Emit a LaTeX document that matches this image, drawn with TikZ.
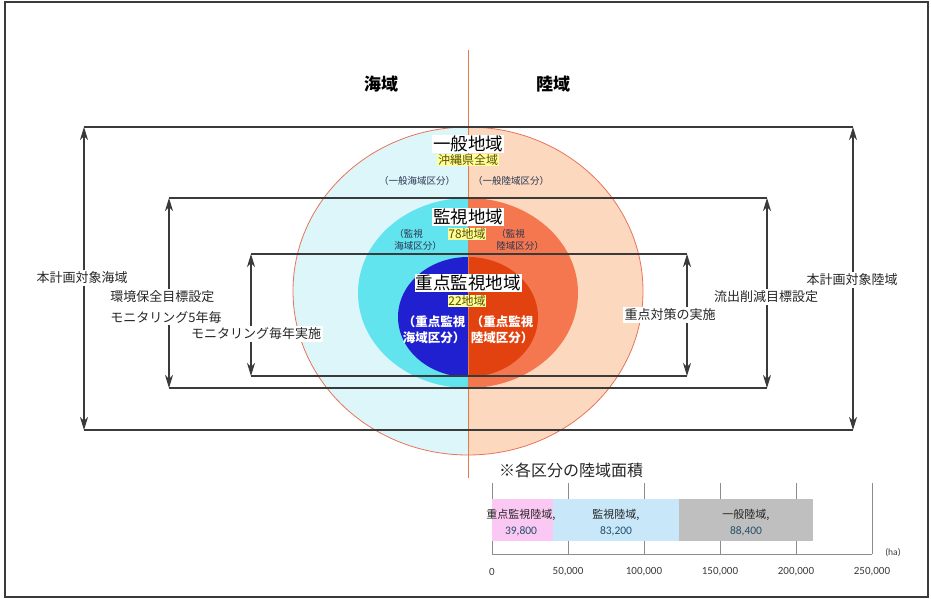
\documentclass[tikz,border=0pt]{standalone}
\usepackage{fontspec}
\setmainfont{Noto Sans CJK JP}
\newfontfamily\calfont{Carlito}
\usetikzlibrary{arrows.meta}
\definecolor{lc}{HTML}{3A3A3A}
\definecolor{oL}{HTML}{DDF6FA}
\definecolor{oR}{HTML}{FCD8BE}
\definecolor{mL}{HTML}{62E4EF}
\definecolor{mR}{HTML}{F5774F}
\definecolor{iL}{HTML}{2020D0}
\definecolor{iR}{HTML}{E2420F}
\definecolor{edge}{HTML}{E8735A}
\definecolor{cline}{HTML}{E07B4A}
\definecolor{yl}{HTML}{FFFF99}
\definecolor{yt}{HTML}{5C4F00}
\definecolor{st}{HTML}{2A3550}
\definecolor{tc}{HTML}{262626}
\definecolor{barP}{HTML}{FAC8F2}
\definecolor{barB}{HTML}{C8E8FA}
\definecolor{barG}{HTML}{BFBFBF}
\definecolor{grid}{HTML}{8C8C8C}
\definecolor{numc}{HTML}{24506A}
\begin{document}
\begin{tikzpicture}[x=1pt,y=-1pt,
  brk/.style={draw=lc,line width=1.3pt},
  arr/.style={draw=lc,line width=1.3pt,{Stealth[length=13pt,width=8pt,inset=4pt]}-{Stealth[length=13pt,width=8pt,inset=4pt]}},
  side/.style={fill=white,inner sep=1.5pt,text=tc,font=\fontsize{13}{21}\selectfont},
  ttl/.style={fill=white,inner sep=1pt,text=black,font=\fontsize{17.5}{19}\selectfont},
  cnt/.style={fill=yl,text=yt,inner sep=0.8pt,font=\fontsize{12}{13}\selectfont},
  sub/.style={text=st,inner sep=0pt,align=left,font=\fontsize{9.5}{11.5}\selectfont},
  wht/.style={text=white,inner sep=0pt,align=left,font=\bfseries\fontsize{12.5}{16}\selectfont},
  head/.style={text=black,font=\bfseries\fontsize{17}{19}\selectfont},
  blab/.style={text=tc,inner sep=0pt,font=\fontsize{11}{13}\selectfont},
  bnum/.style={text=numc,inner sep=0pt,font=\calfont\fontsize{11.5}{13}\selectfont},
  tick/.style={text=lc,inner sep=0pt,font=\calfont\fontsize{11}{13}\selectfont}]
\useasboundingbox (0,0) rectangle (931,599);
% frame
\draw[line width=1.6pt,draw=lc] (5,2) rectangle (928,597);
% ellipses, left halves
\begin{scope}
\clip (0,0) rectangle (468,599);
\fill[oL] (468,291) ellipse [x radius=175, y radius=164];
\fill[mL] (468,293) ellipse [x radius=110, y radius=95];
\fill[iL] (468,317) ellipse [x radius=70, y radius=60];
\end{scope}
% ellipses, right halves
\begin{scope}
\clip (468,0) rectangle (931,599);
\fill[oR] (468,291) ellipse [x radius=175, y radius=164];
\fill[mR] (468,293) ellipse [x radius=110, y radius=95];
\fill[iR] (468,317) ellipse [x radius=70, y radius=60];
\end{scope}
\draw[edge,line width=0.8pt] (468,291) ellipse [x radius=175, y radius=164];
% centre line
\coordinate (cT) at (468,50);
\coordinate (cB) at (468,478);
\draw[cline,line width=1pt] (cT) -- (cB);
\node[head] (sea) at (381,84) {海域};
\node[head] (land) at (553,84) {陸域};
% bracket corners
\coordinate (L1t) at (84,127);  \coordinate (R1t) at (853,127);
\coordinate (L1b) at (84,430);  \coordinate (R1b) at (853,430);
\coordinate (L2t) at (169,198); \coordinate (R2t) at (767,198);
\coordinate (L2b) at (169,388); \coordinate (R2b) at (767,388);
\coordinate (L3t) at (251,254); \coordinate (R3t) at (687,254);
\coordinate (L3b) at (251,376); \coordinate (R3b) at (687,376);
\draw[brk] (L1t) -- (R1t);
\draw[brk] (L1b) -- (R1b);
\draw[brk] (L2t) -- (R2t);
\draw[brk] (L2b) -- (R2b);
\draw[brk] (L3t) -- (R3t);
\draw[brk] (L3b) -- (R3b);
\draw[arr] (L1t) -- (L1b);
\draw[arr] (R1t) -- (R1b);
\draw[arr] (L2t) -- (L2b);
\draw[arr] (R2t) -- (R2b);
\draw[arr] (L3t) -- (L3b);
\draw[arr] (R3t) -- (R3b);
% side labels
\node[side] (lab1) at (82,278) {本計画対象海域};
\node[side,align=left] (lab2) at (166,307) {環境保全目標設定\\モニタリング5年毎};
\node[side] (lab3) at (256,334) {モニタリング毎年実施};
\node[side] (lab4) at (670,315) {重点対策の実施};
\node[side] (lab5) at (766,297) {流出削減目標設定};
\node[side] (lab6) at (852,280) {本計画対象陸域};
% centre labels
\node[ttl] (t1) at (468,144) {一般地域};
\node[cnt] (c1) at (468,160) {沖縄県全域};
\node[sub] (s1) at (417,181) {（一般海域区分）};
\node[sub] (s2) at (511,181) {（一般陸域区分）};
\node[ttl] (t2) at (468,217) {監視地域};
\node[cnt] (c2) at (467,234) {78地域};
\node[sub] (s3) at (418,240) {（監視\\海域区分）};
\node[sub] (s4) at (520,240) {（監視\\陸域区分）};
\node[ttl] (t3) at (468,283) {重点監視地域};
\node[cnt] (c3) at (467,301) {22地域};
\node[wht] (w1) at (434,330) {（重点監視\\海域区分）};
\node[wht] (w2) at (502,330) {（重点監視\\陸域区分）};
% chart
\node[text=tc,font=\fontsize{16}{18}\selectfont] (note) at (571,470) {※各区分の陸域面積};
\foreach \gx/\gl [count=\i] in {492/0,568/{50,000},644/{100,000},720/{150,000},796/{200,000},872/{250,000}}{
  \draw[grid,line width=0.8pt] (\gx,483) -- (\gx,554);
  \node[tick] (tk\i) at (\gx,572) {\gl};
}
\draw[grid,line width=0.8pt] (492,554) -- (872,554);
\fill[barP] (492,499) rectangle (552.5,541);
\fill[barB] (552.5,499) rectangle (679,541);
\fill[barG] (679,499) rectangle (813,541);
\node[tick,font=\calfont\fontsize{9.5}{11}\selectfont] (unit) at (893,553) {(ha)};
\node[blab] (b1) at (521,515) {重点監視陸域,};
\node[bnum] (n1) at (521,531) {39,800};
\node[blab] (b2) at (616,515) {監視陸域,};
\node[bnum] (n2) at (616,531) {83,200};
\node[blab] (b3) at (746,515) {一般陸域,};
\node[bnum] (n3) at (746,531) {88,400};
\end{tikzpicture}
\end{document}
